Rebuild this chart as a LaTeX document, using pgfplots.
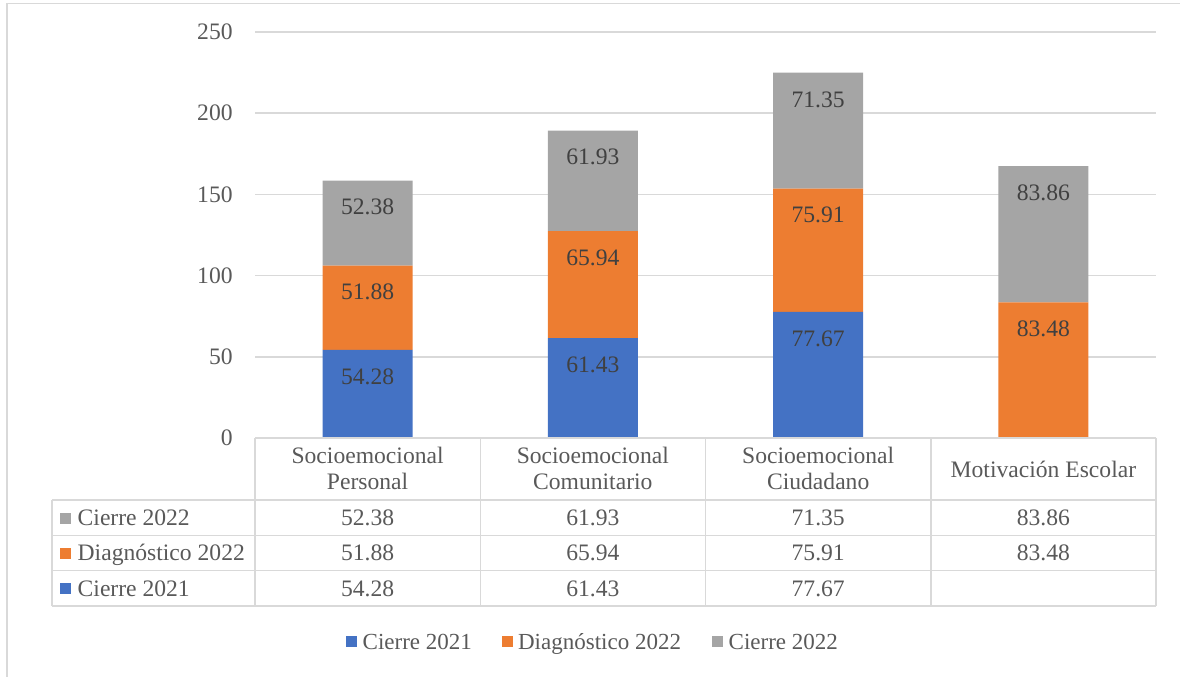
\documentclass[border=0pt]{standalone}
\usepackage{fontspec}
\setmainfont{Liberation Serif}
\usepackage{pgfplots}
\usepackage{pgfplotstable}
\pgfplotsset{compat=1.18}
\definecolor{cA}{HTML}{4472C4}
\definecolor{cB}{HTML}{ED7D31}
\definecolor{cC}{HTML}{A5A5A5}
\definecolor{gridc}{HTML}{D9D9D9}
\definecolor{txt}{HTML}{595959}
\definecolor{lbl}{HTML}{404040}
\newcommand{\tf}{\fontsize{11.8}{13.35}\selectfont}

\pgfplotstableread{
x y lab
0.5 54.28 54.28
1.5 61.43 61.43
2.5 77.67 77.67
3.5 0 {}
}\cierreA
\pgfplotstableread{
x y lab
0.5 51.88 51.88
1.5 65.94 65.94
2.5 75.91 75.91
3.5 83.48 83.48
}\diagB
\pgfplotstableread{
x y lab
0.5 52.38 52.38
1.5 61.93 61.93
2.5 71.35 71.35
3.5 83.86 83.86
}\cierreC

\begin{document}
\begin{tikzpicture}
\path[use as bounding box] (0pt,0pt) rectangle (590pt,338pt);
\draw[gridc, line width=0.75pt] (3.5pt,-5pt) -- (3.5pt,336.25pt) -- (600pt,336.25pt);
\begin{axis}[
  at={(127.5pt,119pt)}, anchor=south west,
  scale only axis, width=450.5pt, height=203pt,
  xmin=0, xmax=4, ymin=0, ymax=250,
  ybar stacked, bar width=45pt,
  xtick=\empty,
  ytick={0,50,100,150,200,250},
  ymajorgrids, grid style={gridc, line width=0.75pt},
  axis line style={draw=none},
  major tick length=0pt, tick style={draw=none},
  /pgf/number format/assume math mode=true,
  yticklabel style={font=\tf, text=txt, inner sep=0pt, anchor=east, xshift=-11pt},
  point meta=explicit symbolic,
  visualization depends on={\thisrow{y} \as \segval},
  nodes near coords,
  every node near coord/.append style={font=\tf, text=lbl, anchor=center, yshift={\segval*0.406pt-13.35pt}},
]
\addplot[fill=cA, draw=none] table[x=x, y=y, meta=lab] {\cierreA};
\addplot[fill=cB, draw=none] table[x=x, y=y, meta=lab] {\diagB};
\addplot[fill=cC, draw=none] table[x=x, y=y, meta=lab] {\cierreC};
\end{axis}
\begin{scope}[x=1pt, y=1pt]
\begin{scope}[line width=0.75pt, gridc]
\draw (127.5,119) -- (578,119);
\draw (26,88) -- (578,88);
\draw (26,70.25) -- (578,70.25);
\draw (26,52.65) -- (578,52.65);
\draw (26,35) -- (578,35);
\draw (26,88) -- (26,35);
\foreach \x in {127.5,240.125,352.75,465.375,578} \draw (\x,119) -- (\x,35);
\end{scope}
\begin{scope}[every node/.style={font=\tf, text=txt, inner sep=0pt, anchor=base}]
\node at (183.8,106.35) {Socioemocional};
\node at (183.8,93) {Personal};
\node at (296.4,106.35) {Socioemocional};
\node at (296.4,93) {Comunitario};
\node at (409.1,106.35) {Socioemocional};
\node at (409.1,93) {Ciudadano};
\node at (521.7,99.35) {Motivación Escolar};
\node[anchor=base west] at (38.65,75) {Cierre 2022};
\node[anchor=base west] at (38.65,57.5) {Diagnóstico 2022};
\node[anchor=base west] at (38.65,40) {Cierre 2021};
\node at (183.8,75) {52.38};
\node at (296.4,75) {61.93};
\node at (409.1,75) {71.35};
\node at (521.7,75) {83.86};
\node at (183.8,57.5) {51.88};
\node at (296.4,57.5) {65.94};
\node at (409.1,57.5) {75.91};
\node at (521.7,57.5) {83.48};
\node at (183.8,40) {54.28};
\node at (296.4,40) {61.43};
\node at (409.1,40) {77.67};
\end{scope}
\fill[cC] (30,75.85) rectangle (35.6,81.45);
\fill[cB] (30,58.55) rectangle (35.6,64.15);
\fill[cA] (30,40.85) rectangle (35.6,46.45);
% legend
\begin{scope}[every node/.style={font=\fontsize{11.5}{13}\selectfont, text=txt, inner sep=0pt, anchor=base west}]
\fill[cA] (172.85,14.65) rectangle (178.35,20.15);
\node at (181.15,13.35) {Cierre 2021};
\fill[cB] (250.85,14.65) rectangle (256.35,20.15);
\node at (258.85,13.35) {Diagnóstico 2022};
\fill[cC] (355.85,14.65) rectangle (361.35,20.15);
\node at (364.15,13.35) {Cierre 2022};
\end{scope}
\end{scope}
\end{tikzpicture}
\end{document}
